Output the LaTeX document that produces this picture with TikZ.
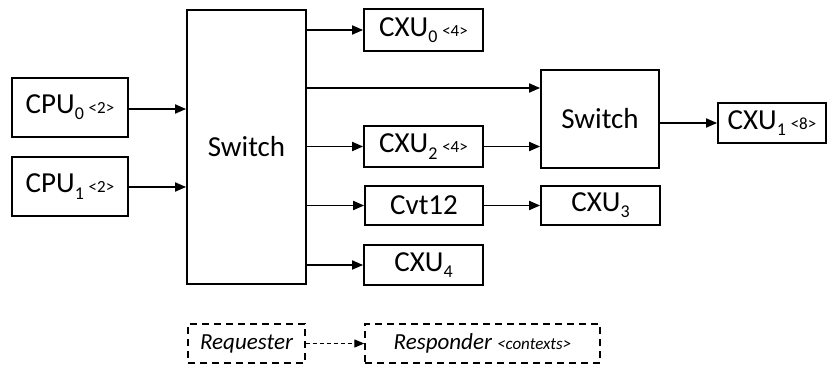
\documentclass[tikz,border=0pt]{standalone}
\usepackage{fontspec}
\setmainfont{Carlito}
\usetikzlibrary{arrows.meta,calc}
\newcommand{\mysub}[1]{\raisebox{-0.45ex}{\fontsize{18}{18}\selectfont #1}}
\newcommand{\myctx}[1]{\fontsize{17}{17}\selectfont #1}
\begin{document}
\begin{tikzpicture}[x=1pt,y=-1pt,
  blk/.style={draw,line width=1.8pt,inner sep=0pt,font=\fontsize{29}{29}\selectfont},
  leg/.style={draw,dashed,dash pattern=on 7pt off 5pt,line width=1.4pt,inner sep=0pt,font=\fontsize{23}{23}\selectfont\itshape},
  arr/.style={line width=1.8pt,-{Triangle[length=11pt,width=9pt]}},
  darr/.style={line width=1.3pt,dash pattern=on 4pt off 3pt,-{Triangle[length=10pt,width=8pt]}}]
\useasboundingbox (0,0) rectangle (829,366);
\node[blk,minimum width=116pt,minimum height=59pt] (cpu0) at (70,107.5) {CPU\mysub{0}\,\myctx{<2>}};
\node[blk,minimum width=116pt,minimum height=59pt] (cpu1) at (70,186.5) {CPU\mysub{1}\,\myctx{<2>}};
\node[blk,minimum width=119pt,minimum height=274pt] (sw1) at (246.5,147) {Switch};
\node[blk,minimum width=119pt,minimum height=42pt] (cxu0) at (423.5,30) {CXU\mysub{0}\,\myctx{<4>}};
\node[blk,minimum width=119pt,minimum height=41pt] (cxu2) at (423.5,146.5) {CXU\mysub{2}\,\myctx{<4>}};
\node[blk,minimum width=118pt,minimum height=39pt] (cvt) at (424,205.5) {Cvt12};
\node[blk,minimum width=119pt,minimum height=40pt] (cxu4) at (423.5,265) {CXU\mysub{4}};
\node[blk,minimum width=119pt,minimum height=39pt] (cxu3) at (600.5,205.5) {CXU\mysub{3}};
\node[blk,minimum width=118pt,minimum height=98pt] (sw2) at (600,119) {Switch};
\node[blk,minimum width=108pt,minimum height=40pt] (cxu1) at (772,123) {CXU\mysub{1}\,\myctx{<8>}};
\node[leg,minimum width=117pt,minimum height=39pt] (req) at (246.5,343.5) {Requester};
\node[leg,minimum width=235pt,minimum height=39pt] (resp) at (482.5,343.5) {Responder \myctx{<contexts>}};
\coordinate (s2a) at (541,88);
\draw[arr] (cpu0.east |- 0,109) -- (sw1.west |- 0,109);
\draw[arr] (cpu1.east |- 0,187) -- (sw1.west |- 0,187);
\draw[arr] (sw1.east |- cxu0) -- (cxu0.west);
\draw[arr] (sw1.east |- s2a) -- (sw2.west |- s2a);
\draw[arr] (sw1.east |- cxu2) -- (cxu2.west);
\draw[arr] (sw1.east |- cvt) -- (cvt.west);
\draw[arr] (sw1.east |- cxu4) -- (cxu4.west);
\draw[arr] (cxu2.east) -- (cxu2.east -| sw2.west);
\draw[arr] (cvt.east) -- (cxu3.west);
\draw[arr] (sw2.east |- cxu1) -- (cxu1.west);
\draw[darr] (req.east) -- (resp.west);
\end{tikzpicture}
\end{document}
